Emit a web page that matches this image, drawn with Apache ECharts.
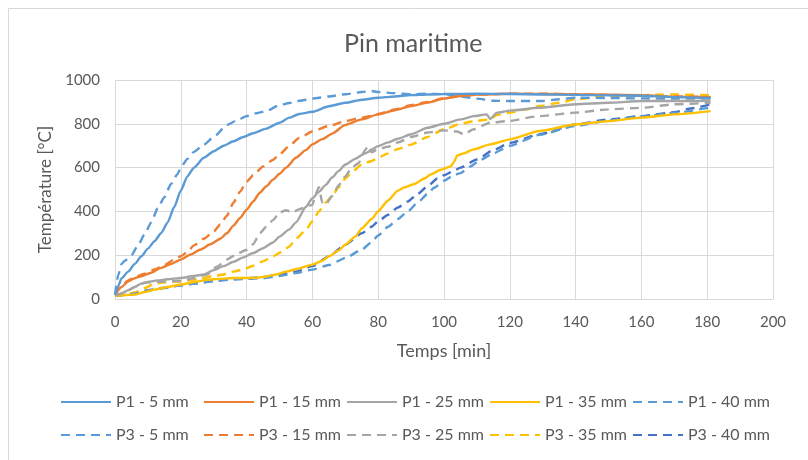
<!DOCTYPE html>
<html>
<head>
<meta charset="utf-8">
<script src="https://cdn.jsdelivr.net/npm/echarts@6/dist/echarts.min.js"></script>
<style>
html,body{margin:0;padding:0;background:#fff;}
#c{width:808px;height:460px;}
</style>
</head>
<body>
<div id="c"></div>
<script>
// ---- data (time [min], temperature [°C]) ----
const xTicks = [0, 20, 40, 60, 80, 100, 120, 140, 160, 180, 200];
const yTicks = [0, 200, 400, 600, 800, 1000];

const p1_5 = [[0,20],[1,60],[2,95],[4,125],[6,160],[8,195],[10,230],[12,264],[14,300],[16,350],[18,420],[20,495],[22,560],[24,600],[27,645],[30,675],[33,700],[36,720],[39,740],[42,757],[46,778],[50,805],[53,828],[56,845],[60,855],[65,880],[70,896],[75,910],[80,919],[85,925],[90,931],[95,934],[100,936],[110,937],[120,936],[130,934],[140,932],[150,930],[160,928],[170,922],[181,918]];
const p1_15 = [[0,20],[2,55],[4,80],[6,95],[8,104],[11,120],[14,142],[17,160],[20,180],[23,203],[26,226],[29,250],[32,275],[34,300],[36,335],[38,370],[40,408],[42,445],[44,485],[46,515],[48,545],[50,572],[52,600],[55,645],[58,680],[60,706],[63,730],[66,755],[70,795],[75,820],[80,843],[85,862],[90,881],[95,897],[100,915],[105,927],[110,933],[120,937],[130,936],[140,934],[150,933],[160,931],[170,923],[181,921]];
const p1_25 = [[0,15],[2,25],[4,40],[6,55],[8,70],[10,78],[13,85],[16,90],[20,96],[24,105],[27,112],[30,132],[33,150],[36,170],[39,190],[42,210],[45,232],[48,258],[50,285],[53,318],[55,350],[58,420],[60,460],[62,490],[64,520],[66,555],[68,585],[70,614],[73,640],[76,665],[80,698],[83,715],[86,732],[90,752],[95,782],[100,800],[105,820],[109,835],[113,843],[114,822],[116,850],[120,860],[129,873],[140,889],[150,896],[160,904],[170,904],[181,905]];
const p1_35 = [[0,15],[3,18],[6,20],[9,32],[12,43],[16,55],[20,66],[25,80],[28,88],[32,92],[36,96],[40,96],[43,97],[46,103],[49,112],[52,125],[56,140],[60,157],[63,175],[65,195],[68,222],[70,248],[73,285],[75,322],[78,365],[80,401],[83,450],[86,495],[88,510],[91,525],[94,550],[96,569],[99,590],[102,605],[103,625],[104,655],[106,665],[109,683],[114,706],[120,729],[129,767],[140,797],[150,812],[160,828],[170,843],[181,858]];
const p1_40 = [[0,15],[5,22],[10,38],[15,50],[20,62],[25,72],[30,82],[35,88],[40,92],[45,95],[50,105],[55,118],[60,134],[65,155],[70,187],[75,225],[78,260],[80,290],[83,330],[86,365],[89,400],[92,440],[95,480],[97,508],[100,540],[103,565],[105,575],[108,605],[111,635],[115,665],[120,700],[129,750],[140,790],[150,815],[160,833],[170,850],[181,875]];
const p3_5 = [[0,20],[1,110],[2,160],[3,175],[5,200],[7,245],[9,295],[11,350],[13,415],[15,465],[17,525],[19,570],[20,600],[22,640],[24,672],[27,705],[30,740],[34,795],[37,815],[40,835],[43,848],[46,858],[50,885],[53,895],[56,905],[60,915],[65,925],[70,935],[75,945],[78,950],[80,945],[85,940],[90,935],[95,937],[100,935],[105,925],[110,915],[115,905],[120,904],[130,904],[135,912],[140,919],[150,918],[160,916],[170,915],[181,916]];
const p3_15 = [[0,20],[2,60],[4,85],[6,100],[9,115],[12,135],[15,155],[18,180],[20,195],[22,215],[24,245],[27,275],[30,308],[32,340],[34,380],[36,440],[38,490],[40,535],[42,565],[45,605],[48,635],[50,660],[53,700],[56,735],[60,765],[65,790],[70,812],[75,828],[80,845],[85,865],[90,885],[95,900],[100,917],[105,927],[110,933],[120,937],[130,938],[140,935],[150,932],[160,928],[170,925],[181,922]];
const p3_25 = [[0,15],[3,30],[6,55],[9,75],[12,78],[15,80],[20,82],[24,95],[28,112],[31,148],[34,180],[37,205],[40,225],[42,250],[44,300],[46,330],[48,360],[50,395],[52,405],[54,395],[56,410],[58,420],[60,430],[61,480],[62,510],[63,440],[64,430],[66,470],[68,520],[70,560],[72,600],[74,620],[76,680],[77,700],[78,670],[80,685],[83,695],[86,715],[90,740],[95,760],[100,770],[104,765],[106,752],[109,775],[114,805],[119,812],[129,835],[140,851],[150,866],[160,873],[170,889],[181,896]];
const p3_35 = [[0,15],[3,18],[6,30],[9,50],[12,70],[15,76],[20,81],[25,90],[30,105],[33,112],[36,125],[39,135],[42,152],[45,172],[48,195],[51,218],[53,240],[55,275],[58,315],[60,355],[62,400],[64,440],[66,470],[68,510],[70,550],[72,580],[75,614],[78,630],[80,645],[83,665],[86,685],[90,705],[95,740],[100,775],[105,800],[109,812],[114,820],[116,840],[120,851],[125,866],[129,881],[135,896],[140,912],[150,927],[160,931],[170,934],[181,931]];
const p3_40 = [[0,15],[5,22],[10,40],[15,52],[20,62],[25,72],[30,82],[35,90],[40,95],[45,100],[50,110],[55,125],[60,150],[65,195],[70,248],[75,300],[78,330],[80,355],[83,385],[86,418],[89,445],[92,480],[95,515],[98,550],[100,565],[103,585],[105,600],[110,637],[115,680],[120,713],[129,752],[140,797],[150,820],[160,835],[170,853],[175,870],[181,889]];

const seriesNames = ['P1 - 5 mm','P1 - 15 mm','P1 - 25 mm','P1 - 35 mm','P1 - 40 mm',
                     'P3 - 5 mm','P3 - 15 mm','P3 - 25 mm','P3 - 35 mm','P3 - 40 mm'];
const seriesData = [p1_5, p1_15, p1_25, p1_35, p1_40, p3_5, p3_15, p3_25, p3_35, p3_40];
const seriesColors = ['#5B9BD5','#ED7D31','#A5A5A5','#FFC000','#5B9BD5',
                      '#5B9BD5','#ED7D31','#A5A5A5','#FFC000','#4472C4'];
const seriesDashed = [false,false,false,false,true,true,true,true,true,true];

const FONT = 'Lato, "Open Sans", sans-serif';
const legendLeft = [60, 203, 346, 489, 632];
const legendTop = [394, 427];

const legends = seriesNames.map((n, i) => ({
  data: [n],
  left: legendLeft[i % 5],
  top: legendTop[Math.floor(i / 5)],
  itemWidth: 50,
  itemHeight: 16,
  padding: 0,
  itemStyle: { opacity: 0 },
  textStyle: { fontFamily: FONT, fontSize: 16, color: '#595959' }
}));

const series = seriesNames.map((n, i) => ({
  name: n,
  type: 'line',
  data: seriesData[i],
  showSymbol: false,
  symbol: 'none',
  smooth: 0.2,
  smoothMonotone: 'x',
  z: 10 - i,
  lineStyle: {
    color: seriesColors[i],
    width: 2.4,
    type: seriesDashed[i] ? [9, 6] : 'solid',
    cap: 'butt'
  },
  itemStyle: { color: seriesColors[i] }
}));

const chart = echarts.init(document.getElementById('c'), null, { renderer: 'canvas' });
chart.setOption({
  animation: false,
  backgroundColor: '#ffffff',
  graphic: [{
    type: 'rect',
    shape: { x: 8.5, y: 8.5, width: 820, height: 470 },
    style: { fill: 'none', stroke: '#D9D9D9', lineWidth: 1 },
    silent: true
  }],
  title: {
    text: 'Pin maritime',
    left: 339,
    top: 26,
    textStyle: { fontFamily: FONT, fontSize: 25, fontWeight: 'normal', color: '#595959' }
  },
  legend: legends,
  grid: { left: 115, right: 35, top: 80, bottom: 161, containLabel: false },
  xAxis: {
    type: 'value',
    min: xTicks[0],
    max: xTicks[xTicks.length - 1],
    interval: 20,
    name: 'Temps [min]',
    nameLocation: 'middle',
    nameGap: 43,
    nameTextStyle: { fontFamily: FONT, fontSize: 18, color: '#595959' },
    axisLine: { show: true, lineStyle: { color: '#D9D9D9', width: 1 } },
    axisTick: { show: false },
    axisLabel: { fontFamily: FONT, fontSize: 15, color: '#595959', margin: 16, formatter: v => String(v) },
    splitLine: { show: true, lineStyle: { color: '#D9D9D9', width: 1 } }
  },
  yAxis: {
    type: 'value',
    min: yTicks[0],
    max: yTicks[yTicks.length - 1],
    interval: 200,
    name: 'Température [°C]',
    nameLocation: 'middle',
    nameGap: 59,
    nameTextStyle: { fontFamily: FONT, fontSize: 17, color: '#595959' },
    axisLine: { show: false },
    axisTick: { show: false },
    axisLabel: { fontFamily: FONT, fontSize: 15, color: '#595959', margin: 15, formatter: v => String(v) },
    splitLine: { show: true, lineStyle: { color: '#D9D9D9', width: 1 } }
  },
  series: series
});
</script>
</body>
</html>
